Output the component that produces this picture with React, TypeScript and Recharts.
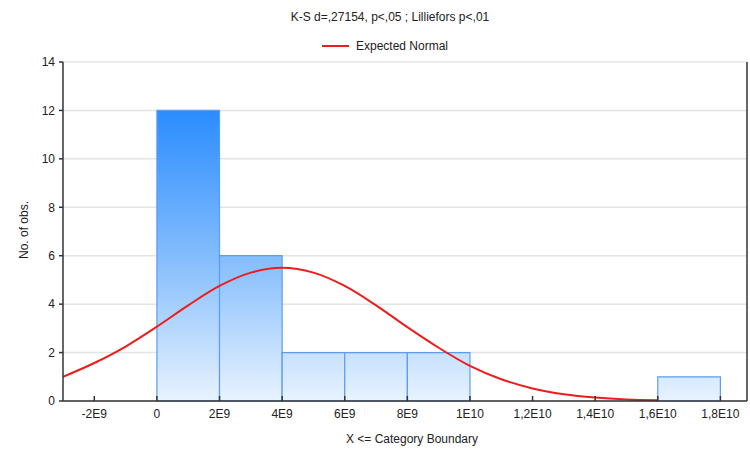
import React from "react";
import {
  ComposedChart,
  Line,
  XAxis,
  YAxis,
  CartesianGrid,
  ReferenceArea,
} from "recharts";

// histogram bins (lower bound, upper bound, count)
const binStarts = [0, 2e9, 4e9, 6e9, 8e9, 1e10, 1.2e10, 1.4e10, 1.6e10];
const binEnds = [2e9, 4e9, 6e9, 8e9, 1e10, 1.2e10, 1.4e10, 1.6e10, 1.8e10];
const binCounts = [12, 6, 2, 2, 2, 0, 0, 0, 1];

// expected normal curve
const curveX = [
  -3e9, -2e9, -1e9, 0, 1e9, 2e9, 3e9, 4e9, 5e9, 6e9, 7e9, 8e9, 9e9, 1e10,
  1.1e10, 1.2e10, 1.3e10, 1.4e10, 1.5e10, 1.6e10,
];
const curveY = [
  1.0, 1.57, 2.25, 3.07, 3.95, 4.75, 5.3, 5.5, 5.3, 4.75, 3.95, 3.05, 2.2,
  1.45, 0.9, 0.52, 0.28, 0.14, 0.06, 0.03,
];

const xTicks = [-2e9, 0, 2e9, 4e9, 6e9, 8e9, 1e10, 1.2e10, 1.4e10, 1.6e10, 1.8e10];
const xTickLabels = ["-2E9", "0", "2E9", "4E9", "6E9", "8E9", "1E10", "1,2E10", "1,4E10", "1,6E10", "1,8E10"];
const yTicks = [0, 2, 4, 6, 8, 10, 12, 14];

const title = "K-S d=,27154, p<,05 ; Lilliefors p<,01";
const legendLabel = "Expected Normal";
const xLabel = "X <= Category Boundary";
const yLabel = "No. of obs.";

const data = curveX.map((x, i) => ({ x, normal: curveY[i] }));

const FONT = "'Liberation Sans', Arial, sans-serif";
const TEXT = "#222";
const FRAME = "#333";

const TICK_SIZE = 4;
const TICK_MARGIN = 4;

function BottomTick(props: any) {
  const { x, y, payload } = props;
  const axisY = y - TICK_SIZE - TICK_MARGIN;
  const idx = xTicks.indexOf(payload.value);
  return (
    <g>
      <line x1={x} x2={x} y1={axisY} y2={axisY - 5} stroke={FRAME} strokeWidth={1.5} />
      <text x={x} y={y} dy="0.71em" textAnchor="middle" fontSize={12} fontFamily={FONT} fill={TEXT}>
        {idx >= 0 ? xTickLabels[idx] : payload.value}
      </text>
    </g>
  );
}

function TopTick(props: any) {
  const { x, y } = props;
  return <line x1={x} x2={x} y1={y} y2={y + 5} stroke={FRAME} strokeWidth={1.5} />;
}

function RightTick(props: any) {
  const { x, y } = props;
  return <line x1={x} x2={x - 5} y1={y} y2={y} stroke={FRAME} strokeWidth={1.5} />;
}

export default function App() {
  return (
    <div style={{ position: "absolute", left: 0, top: 0, width: 750, height: 450, background: "#fff", fontFamily: FONT }}>
      <ComposedChart
        width={750}
        height={450}
        data={data}
        margin={{ top: 62, right: 2, left: 0, bottom: 0 }}
      >
        <defs>
          <linearGradient id="binFill" gradientUnits="userSpaceOnUse" x1="0" y1="62" x2="0" y2="401">
            <stop offset="0" stopColor="#1c82ff" />
            <stop offset="0.14" stopColor="#2a8cff" />
            <stop offset="0.57" stopColor="#82bcfc" />
            <stop offset="1" stopColor="#e8f3ff" />
          </linearGradient>
        </defs>
        <CartesianGrid vertical={false} stroke="#e4e4e4" strokeWidth={1.5} yAxisId="left" />
        <XAxis
          xAxisId="bottom"
          dataKey="x"
          type="number"
          domain={[-3e9, 1.885e10]}
          ticks={xTicks}
          allowDataOverflow
          height={49}
          axisLine={{ stroke: FRAME, strokeWidth: 1.5 }}
          tickLine={{ stroke: "none" }}
          tickSize={TICK_SIZE}
          tickMargin={TICK_MARGIN}
          tick={<BottomTick />}
          interval={0}
        />
        <XAxis
          xAxisId="top"
          dataKey="x"
          type="number"
          orientation="top"
          domain={[-3e9, 1.885e10]}
          ticks={xTicks}
          allowDataOverflow
          height={0}
          axisLine={{ stroke: FRAME, strokeWidth: 1.5 }}
          tickLine={false}
          tickSize={0}
          tickMargin={0}
          tick={<TopTick />}
          interval={0}
        />
        <YAxis
          yAxisId="left"
          type="number"
          domain={[0, 14]}
          ticks={yTicks}
          width={63}
          axisLine={{ stroke: FRAME, strokeWidth: 1.5 }}
          tickLine={{ stroke: FRAME, strokeWidth: 1.5 }}
          tickSize={4}
          tickMargin={4}
          tick={{ fontSize: 12, fontFamily: FONT, fill: TEXT }}
          interval={0}
        />
        <YAxis
          yAxisId="right"
          orientation="right"
          type="number"
          domain={[0, 14]}
          ticks={yTicks}
          width={1}
          axisLine={{ stroke: FRAME, strokeWidth: 1.5 }}
          tickLine={false}
          tickSize={0}
          tickMargin={0}
          tick={<RightTick />}
          interval={0}
        />
        {binCounts.map((c, i) =>
          c > 0 ? (
            <ReferenceArea
              key={i}
              xAxisId="bottom"
              yAxisId="left"
              x1={binStarts[i]}
              x2={binEnds[i]}
              y1={0}
              y2={c}
              fill="url(#binFill)"
              fillOpacity={1}
              stroke="#5d9cf0"
              strokeWidth={1.2}
            />
          ) : null
        )}
        <Line
          xAxisId="bottom"
          yAxisId="left"
          dataKey="normal"
          type="monotone"
          stroke="#ee1c1c"
          strokeWidth={2}
          dot={false}
          activeDot={false}
          isAnimationActive={false}
        />
      </ComposedChart>

      <div style={{ position: "absolute", left: 0, width: 780, top: 10, textAlign: "center", fontSize: 12, color: TEXT, whiteSpace: "nowrap" }}>
        {title}
      </div>
      <div style={{ position: "absolute", left: 322, top: 39, display: "flex", alignItems: "center", fontSize: 12, color: TEXT, whiteSpace: "nowrap" }}>
        <span style={{ display: "inline-block", width: 27, height: 2, background: "#ee1c1c", marginRight: 7 }} />
        <span>{legendLabel}</span>
      </div>
      <div style={{ position: "absolute", left: 0, width: 824, top: 432, textAlign: "center", fontSize: 12, color: TEXT, whiteSpace: "nowrap" }}>
        {xLabel}
      </div>
      <div
        style={{
          position: "absolute",
          left: 24,
          top: 230,
          fontSize: 12,
          color: TEXT,
          whiteSpace: "nowrap",
          transform: "translate(-50%, -50%) rotate(-90deg)",
        }}
      >
        {yLabel}
      </div>
    </div>
  );
}
